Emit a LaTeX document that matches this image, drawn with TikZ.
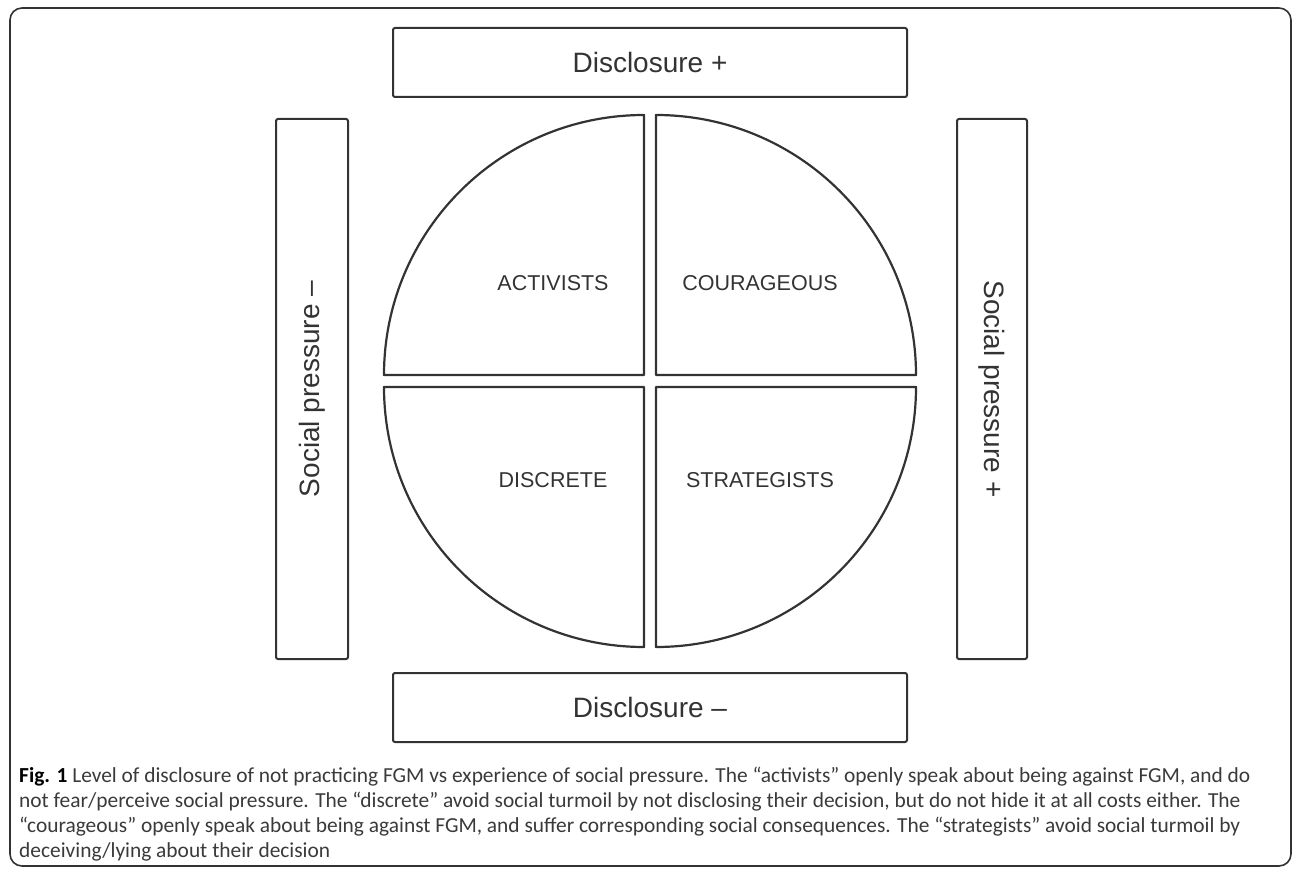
\documentclass[tikz,border=0pt]{standalone}
\usepackage{fontspec}
\setmainfont{Liberation Sans}
\newfontfamily\capfont{Carlito}
\definecolor{ink}{HTML}{333333}
\definecolor{captxt}{HTML}{3A3A3A}
\begin{document}
\begin{tikzpicture}[x=1pt,y=-1pt,
  boxstyle/.style={draw=ink,line width=2pt,rounded corners=2pt},
  quad/.style={draw=ink,line width=2.2pt,line join=round},
  boxlabel/.style={text=ink,font=\fontsize{28}{32}\selectfont,inner sep=0pt},
  quadlabel/.style={text=ink,font=\fontsize{21.5}{25}\selectfont,inner sep=0pt},
  capline/.style={anchor=base west,inner sep=0pt,text=captxt,font=\capfont\fontsize{21.4}{25}\selectfont}]
\useasboundingbox (0,0) rectangle (1292,869);
\begin{scope}
\clip (0,0) rectangle (1292,869);
\draw[ink,line width=1.6pt,rounded corners=12pt] (10,8) rectangle (1291,866);
\end{scope}
% boxes
\draw[boxstyle] (393,28) rectangle (907,97);
\node[boxlabel] (dplus) at (650,62.5) {Disclosure +};
\draw[boxstyle] (393,673) rectangle (907,742);
\node[boxlabel] (dminus) at (650,707.5) {Disclosure –};
\draw[boxstyle] (276,119) rectangle (348,659);
\node[boxlabel,rotate=90] (spminus) at (312,389) {Social pressure –};
\draw[boxstyle] (957,119) rectangle (1027,659);
\node[boxlabel,rotate=-90] (spplus) at (992,389) {Social pressure +};
% quadrants
\draw[quad] (644,375) -- (384,375) arc[start angle=180,end angle=90,radius=260pt] -- cycle;
\draw[quad] (656,375) -- (656,115) arc[start angle=90,end angle=0,radius=260pt] -- cycle;
\draw[quad] (644,387) -- (384,387) arc[start angle=180,end angle=270,radius=260pt] -- cycle;
\draw[quad] (656,387) -- (916,387) arc[start angle=0,end angle=-90,radius=260pt] -- cycle;
\node[quadlabel] (act) at (553,283) {ACTIVISTS};
\node[quadlabel] (cou) at (760,283) {COURAGEOUS};
\node[quadlabel] (dis) at (553,480) {DISCRETE};
\node[quadlabel] (str) at (760,480) {STRATEGISTS};
% caption
\node[capline] (cap1) at (19,782) {\textbf{\color{black}Fig. 1} Level of disclosure of not practicing FGM vs experience of social pressure. The “activists” openly speak about being against FGM, and do};
\node[capline] (cap2) at (19,807) {not fear/perceive social pressure. The “discrete” avoid social turmoil by not disclosing their decision, but do not hide it at all costs either. The};
\node[capline] (cap3) at (19,832) {“courageous” openly speak about being against FGM, and suffer corresponding social consequences. The “strategists” avoid social turmoil by};
\node[capline] (cap4) at (19,857) {deceiving/lying about their decision};
\end{tikzpicture}
\end{document}
